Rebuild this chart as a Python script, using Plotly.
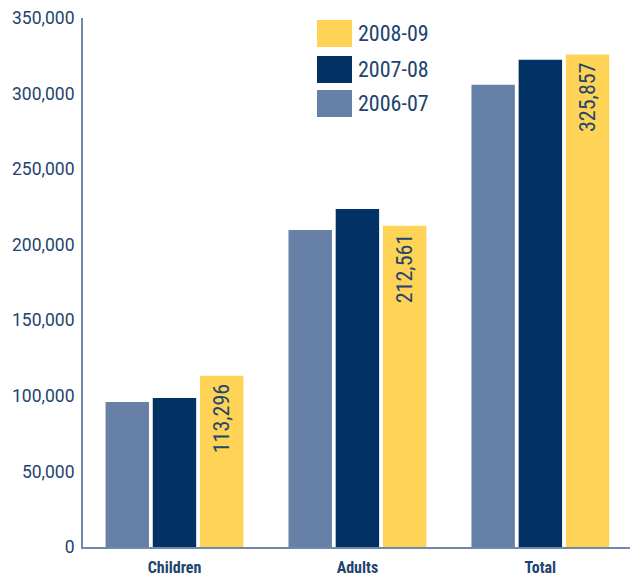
import plotly.graph_objects as go

categories = ["Children", "Adults", "Total"]
series_names = ["2006-07", "2007-08", "2008-09"]
values_2006_07 = [96000, 209800, 305800]
values_2007_08 = [98500, 223700, 322300]
values_2008_09 = [113296, 212561, 325857]
y_ticks = [0, 50000, 100000, 150000, 200000, 250000, 300000, 350000]

colors = {"2006-07": "#6680a7", "2007-08": "#023263", "2008-09": "#fed356"}
series_values = {"2006-07": values_2006_07, "2007-08": values_2007_08, "2008-09": values_2008_09}

NARROW = "Roboto Condensed, Liberation Sans Narrow, sans-serif"
TXT = "#1d436f"

fig = go.Figure()
for name in series_names:
    vals = series_values[name]
    labelled = name == "2008-09"
    fig.add_trace(go.Bar(
        x=categories, y=vals, name=name,
        marker=dict(color=colors[name], line=dict(width=0)),
        text=[f"{v:,}\u00a0" for v in vals] if labelled else None,
        textposition="inside" if labelled else "none",
        insidetextanchor="end",
        textangle=-90,
        textfont=dict(family=NARROW, size=22, color="#24466e"),
        showlegend=False,
    ))

# custom legend (large swatches), top-most = 2008-09
shapes = []
annotations = []
legend_order = ["2008-09", "2007-08", "2006-07"]
top_px = [20, 56, 90]
for name, ty in zip(legend_order, top_px):
    shapes.append(dict(type="rect", xref="paper", yref="paper",
                       x0=(317 - 83) / 547, x1=(352 - 83) / 547,
                       y0=(547 - ty - 27) / 529, y1=(547 - ty) / 529,
                       fillcolor=colors[name], line=dict(width=0)))
    annotations.append(dict(xref="paper", yref="paper",
                            x=(356 - 83) / 547, y=(547 - ty - 13.5) / 529,
                            text=name, showarrow=False, xanchor="left", yanchor="middle",
                            font=dict(family=NARROW, size=22, color=TXT)))

fig.update_layout(
    width=630, height=579,
    margin=dict(l=83, r=0, t=18, b=32),
    paper_bgcolor="white", plot_bgcolor="white",
    barmode="group", bargap=0.226, bargroupgap=0.08,
    shapes=shapes, annotations=annotations,
    xaxis=dict(range=[-0.5, 2.49], showgrid=False, showline=True, linecolor="#6f89aa",
               linewidth=2, ticks="", ticklen=0, automargin=False, ticklabelstandoff=5,
               tickfont=dict(family=NARROW, size=16, color=TXT, weight="bold")),
    yaxis=dict(range=[0, 350000], tickvals=y_ticks, tickformat=",d", showgrid=False,
               showline=True, linecolor="#6f89aa", linewidth=2, ticks="", ticklen=0,
               zeroline=False, automargin=False, ticklabelstandoff=3,
               tickfont=dict(family="Roboto, Arial, sans-serif", size=17.5, color=TXT)),
    showlegend=False,
)

fig.write_html("out.html", config={"displayModeBar": False},
               post_script="document.body.style.margin='0';document.body.style.overflow='hidden';")
